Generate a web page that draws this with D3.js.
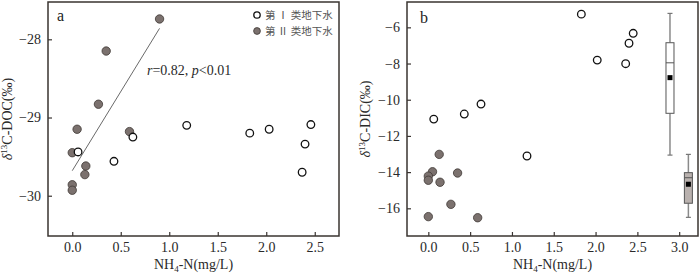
<!DOCTYPE html>
<html><head><meta charset="utf-8">
<script src="https://cdn.jsdelivr.net/npm/d3@7"></script>
<style>
body{margin:0;background:#fff;}
svg{display:block;font-family:"Liberation Serif","Times New Roman",serif;}
</style></head>
<body><svg id="c" width="700" height="274"></svg>
<script>
// ---- data: panel a (δ13C-DOC vs NH4-N) ----
const aType1X = [0.06, 0.43, 0.625, 1.18, 1.83, 2.03, 2.46, 2.40, 2.37];
const aType1Y = [-29.44, -29.56, -29.25, -29.10, -29.20, -29.15, -29.09, -29.34, -29.70];
const aType2X = [0.90, 0.35, 0.27, 0.05, 0.59, 0.0, 0.14, 0.13, 0.0, 0.0];
const aType2Y = [-27.74, -28.15, -28.83, -29.15, -29.18, -29.45, -29.62, -29.73, -29.86, -29.93];
const fitX = [0.0, 0.9];
const fitY = [-29.68, -27.86];
const aYTicks = [-30, -29, -28];
const aXTicks = [0.0, 0.5, 1.0, 1.5, 2.0, 2.5];
// ---- data: panel b (δ13C-DIC vs NH4-N) ----
const bType1X = [1.83, 2.02, 2.36, 2.40, 2.45, 0.63, 0.43, 0.065, 1.18];
const bType1Y = [-5.27, -7.81, -8.01, -6.88, -6.33, -10.24, -10.79, -11.07, -13.11];
const bType2X = [0.13, 0.05, 0.0, 0.0, 0.35, 0.14, 0.27, 0.0, 0.59];
const bType2Y = [-13.02, -13.98, -14.22, -14.45, -14.05, -14.56, -15.78, -16.46, -16.52];
const bYTicks = [-16, -14, -12, -10, -8, -6];
const bXTicks = [0.0, 0.5, 1.0, 1.5, 2.0, 2.5, 3.0];
// box stats: [position, whiskerLow, q1, median, q3, whiskerHigh, mean]
const boxType1 = [2.89, -13.06, -10.75, -7.96, -6.85, -5.23, -8.78];
const boxType2 = [3.11, -16.50, -15.72, -14.31, -14.03, -13.02, -14.67];
const legendLabels = ["第 Ⅰ 类地下水", "第 Ⅱ 类地下水"];

const svg = d3.select("#c");
const frameCol = "#3a3431", fillCol = "#7b716e", txtCol = "#2a2a2a";

function panel(opt) {
  const {x0, x1, y0, y1, xs, ys, xTicks, yTicks, yfmt, xfmt} = opt;
  const g = svg.append("g");
  const xa = d3.axisBottom(xs).tickValues(xTicks).tickSizeInner(-4).tickSizeOuter(0).tickPadding(6).tickFormat(xfmt);
  const ya = d3.axisLeft(ys).tickValues(yTicks).tickSizeInner(-4).tickSizeOuter(0).tickPadding(7).tickFormat(yfmt);
  const gx = g.append("g").attr("transform", `translate(0,${y1})`).call(xa);
  const gy = g.append("g").attr("transform", `translate(${x0},0)`).call(ya);
  [gx, gy].forEach(a => {
    a.select(".domain").remove();
    a.selectAll("line").attr("stroke", frameCol).attr("stroke-width", 1.2);
    a.selectAll("text").attr("font-size", 14).attr("fill", txtCol).attr("font-family", "Liberation Serif, serif");
  });
  g.append("rect").attr("x", x0).attr("y", y0).attr("width", x1 - x0).attr("height", y1 - y0)
    .attr("fill", "none").attr("stroke", frameCol).attr("stroke-width", 1.5);
  return g;
}

function xLabel(cx) {
  const t = svg.append("text").attr("x", cx).attr("y", 269).attr("text-anchor", "middle")
    .attr("font-size", 14).attr("fill", txtCol);
  t.append("tspan").text("NH");
  t.append("tspan").text("4").attr("font-size", 9).attr("dy", 3);
  t.append("tspan").text("-N(mg/L)").attr("dy", -3);
}
function yLabel(cx, cy, name) {
  const t = svg.append("text").attr("transform", `translate(${cx},${cy}) rotate(-90)`)
    .attr("text-anchor", "middle").attr("font-size", 14).attr("fill", txtCol);
  t.append("tspan").text("δ").attr("font-style", "italic");
  t.append("tspan").text("13").attr("font-size", 9).attr("dy", -5);
  t.append("tspan").text("C-" + name + "(‰)").attr("dy", 5);
}

const numFmt = d => (d < 0 ? "\u2212" : "") + Math.abs(d);
const decFmt = d => d.toFixed(1);

// ---- panel a ----
const ax = d3.scaleLinear().domain([-0.25, 2.75]).range([48, 339]);
const ay = d3.scaleLinear().domain([-30.515, -27.523]).range([236, 2]);
const pa = panel({x0: 48, x1: 339, y0: 2, y1: 236, xs: ax, ys: ay, xTicks: aXTicks, yTicks: aYTicks, yfmt: numFmt, xfmt: decFmt});

pa.append("line").attr("x1", ax(fitX[0])).attr("y1", ay(fitY[0])).attr("x2", ax(fitX[1])).attr("y2", ay(fitY[1]))
  .attr("stroke", "#6a6a6a").attr("stroke-width", 1);

pa.selectAll(".a2").data(aType2X.map((x, i) => [x, aType2Y[i]])).join("circle")
  .attr("cx", d => ax(d[0])).attr("cy", d => ay(d[1])).attr("r", 4.2)
  .attr("fill", fillCol).attr("stroke", "#3e3734").attr("stroke-width", 0.8);
pa.selectAll(".a1").data(aType1X.map((x, i) => [x, aType1Y[i]])).join("circle")
  .attr("cx", d => ax(d[0])).attr("cy", d => ay(d[1])).attr("r", 3.8)
  .attr("fill", "#fff").attr("stroke", "#111").attr("stroke-width", 1.3);

const rt = pa.append("text").attr("x", 147).attr("y", 75).attr("font-size", 14).attr("fill", txtCol);
rt.append("tspan").text("r").attr("font-style", "italic");
rt.append("tspan").text("=0.82, ");
rt.append("tspan").text("p").attr("font-style", "italic");
rt.append("tspan").text("<0.01");

pa.append("text").attr("x", 57).attr("y", 21).attr("font-size", 16).attr("fill", "#222").text("a");

// legend
const lg = pa.append("g");
legendLabels.forEach((lab, i) => {
  const cy = 15 + i * 16;
  lg.append("circle").attr("cx", 257).attr("cy", cy).attr("r", i ? 3.4 : 3.2)
    .attr("fill", i ? fillCol : "#fff").attr("stroke", i ? "#3e3734" : "#111").attr("stroke-width", i ? 0.8 : 1.3);
  lg.append("text").attr("x", 265).attr("y", cy + 4).attr("font-size", 10.5)
    .attr("font-family", "Noto Sans CJK SC, serif").attr("fill", "#555").text(lab);
});

xLabel(193.5);
yLabel(12, 119, "DOC");

// ---- panel b ----
const bx = d3.scaleLinear().domain([-0.255, 3.225]).range([407, 698]);
const by = d3.scaleLinear().domain([-17.53, -4.60]).range([236, 2]);
const pb = panel({x0: 407, x1: 698, y0: 2, y1: 236, xs: bx, ys: by, xTicks: bXTicks, yTicks: bYTicks, yfmt: numFmt, xfmt: decFmt});

pb.selectAll(".b2").data(bType2X.map((x, i) => [x, bType2Y[i]])).join("circle")
  .attr("cx", d => bx(d[0])).attr("cy", d => by(d[1])).attr("r", 4.2)
  .attr("fill", fillCol).attr("stroke", "#3e3734").attr("stroke-width", 0.8);
pb.selectAll(".b1").data(bType1X.map((x, i) => [x, bType1Y[i]])).join("circle")
  .attr("cx", d => bx(d[0])).attr("cy", d => by(d[1])).attr("r", 3.8)
  .attr("fill", "#fff").attr("stroke", "#111").attr("stroke-width", 1.3);

function box(b, fill) {
  const [p, lo, q1, med, q3, hi, mean] = b;
  const cx = bx(p), hw = 4, cap = 2.5;
  const g = pb.append("g");
  g.append("line").attr("x1", cx).attr("x2", cx).attr("y1", by(hi)).attr("y2", by(q3)).attr("stroke", "#8a8a8a").attr("stroke-width", 1.5);
  g.append("line").attr("x1", cx).attr("x2", cx).attr("y1", by(q1)).attr("y2", by(lo)).attr("stroke", "#8a8a8a").attr("stroke-width", 1.5);
  [hi, lo].forEach(v => g.append("line").attr("x1", cx - cap).attr("x2", cx + cap).attr("y1", by(v)).attr("y2", by(v)).attr("stroke", "#777").attr("stroke-width", 1.2));
  g.append("rect").attr("x", cx - hw).attr("y", by(q3)).attr("width", hw * 2).attr("height", by(q1) - by(q3))
    .attr("fill", fill).attr("stroke", "#555").attr("stroke-width", 1);
  g.append("line").attr("x1", cx - hw).attr("x2", cx + hw).attr("y1", by(med)).attr("y2", by(med)).attr("stroke", "#555").attr("stroke-width", 1);
  g.append("rect").attr("x", cx - 2.5).attr("y", by(mean) - 2.5).attr("width", 5).attr("height", 5).attr("fill", "#000");
}
box(boxType1, "#fff");
box(boxType2, "#b9b1ae");

pb.append("text").attr("x", 420).attr("y", 23).attr("font-size", 16).attr("fill", "#222").text("b");

xLabel(552.5);
yLabel(370, 119, "DIC");
</script></body></html>
